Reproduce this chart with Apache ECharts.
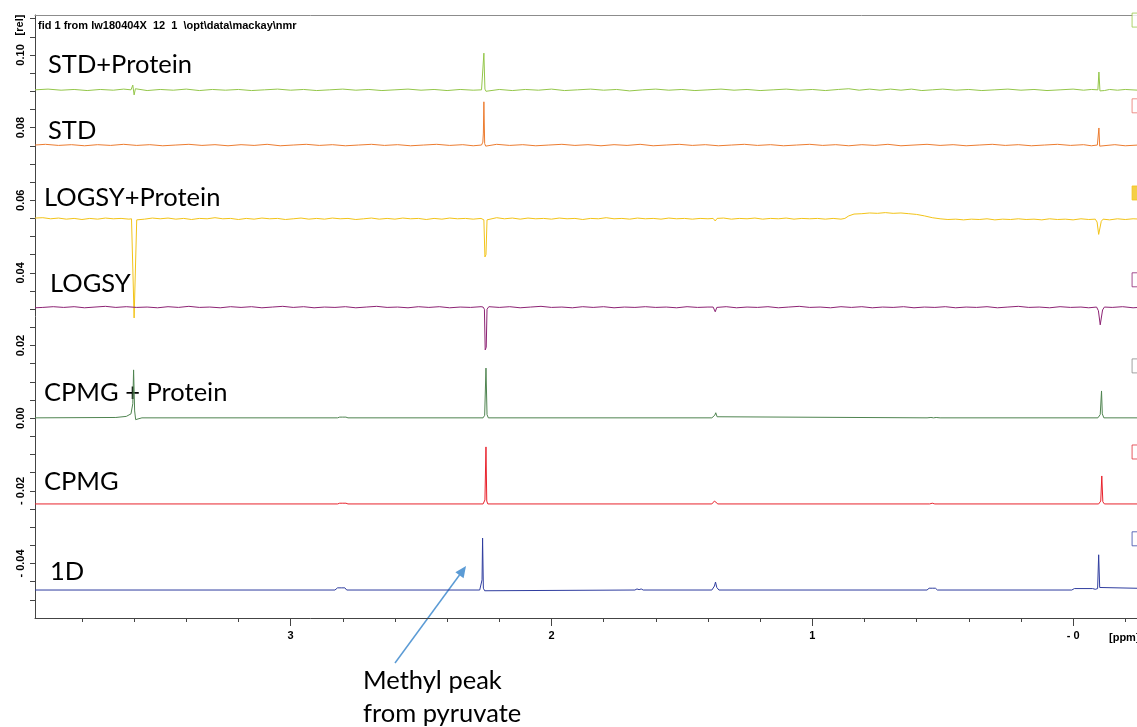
<!DOCTYPE html>
<html>
<head>
<meta charset="utf-8">
<title>NMR spectra</title>
<script src="https://cdn.jsdelivr.net/npm/echarts@6/dist/echarts.min.js"></script>
<style>
  html, body { margin: 0; padding: 0; background: #fff; }
  #main { width: 1137px; height: 727px; }
</style>
</head>
<body>
<div id="main"></div>
<script>
// spectra as [ppm, intensity]
const stdProtein = [
  [3.98,0.0904],[3.93,0.0906],[3.88,0.0903],[3.83,0.0905],[3.78,0.0902],[3.73,0.0905],[3.68,0.0903],[3.64,0.0906],
  [3.612,0.0904],[3.605,0.0917],[3.600,0.0890],[3.595,0.0907],[3.588,0.0904],[3.55,0.0902],[3.50,0.0905],[3.45,0.0903],
  [3.40,0.0906],[3.35,0.0902],[3.30,0.0905],[3.25,0.0903],[3.20,0.0905],[3.15,0.0902],[3.10,0.0904],[3.05,0.0906],
  [3.00,0.0903],[2.95,0.0905],[2.90,0.0902],[2.85,0.0904],[2.80,0.0906],[2.75,0.0903],[2.70,0.0905],[2.65,0.0902],
  [2.60,0.0904],[2.55,0.0906],[2.50,0.0903],[2.45,0.0905],[2.40,0.0902],[2.35,0.0905],[2.30,0.0903],
  [2.268,0.0904],[2.263,0.0909],[2.259,0.1005],[2.255,0.0906],[2.251,0.0900],[2.246,0.0904],
  [2.20,0.0905],[2.15,0.0902],[2.10,0.0905],[2.05,0.0903],[2.00,0.0906],[1.95,0.0902],[1.90,0.0904],[1.85,0.0906],
  [1.80,0.0903],[1.75,0.0905],[1.70,0.0901],[1.65,0.0904],[1.60,0.0906],[1.55,0.0903],[1.50,0.0905],[1.45,0.0902],
  [1.40,0.0904],[1.35,0.0906],[1.30,0.0903],[1.25,0.0905],[1.20,0.0902],[1.15,0.0904],[1.10,0.0906],[1.05,0.0903],
  [1.00,0.0905],[0.95,0.0902],[0.90,0.0905],[0.86,0.0907],[0.82,0.0903],[0.78,0.0906],[0.74,0.0903],[0.70,0.0906],
  [0.66,0.0903],[0.62,0.0906],[0.58,0.0902],[0.54,0.0904],[0.50,0.0906],[0.45,0.0903],[0.40,0.0905],[0.35,0.0902],
  [0.30,0.0904],[0.25,0.0906],[0.20,0.0903],[0.15,0.0905],[0.10,0.0902],[0.05,0.0904],[0.00,0.0906],[-0.04,0.0903],
  [-0.07,0.0905],[-0.095,0.0904],[-0.099,0.0953],[-0.103,0.0901],[-0.108,0.0905],[-0.12,0.0902],[-0.14,0.0905],
  [-0.17,0.0903],[-0.20,0.0905],[-0.25,0.0903],[-0.30,0.0904]
];

const std = [
  [3.98,0.0752],[3.94,0.0754],[3.89,0.0751],[3.84,0.0753],[3.79,0.0750],[3.74,0.0753],[3.69,0.0751],[3.64,0.0754],
  [3.59,0.0751],[3.54,0.0753],[3.49,0.0750],[3.44,0.0752],[3.39,0.0754],[3.34,0.0751],[3.29,0.0753],[3.24,0.0750],
  [3.19,0.0753],[3.14,0.0751],[3.09,0.0754],[3.04,0.0750],[2.99,0.0752],[2.94,0.0754],[2.89,0.0751],[2.84,0.0753],
  [2.79,0.0750],[2.74,0.0752],[2.69,0.0754],[2.64,0.0751],[2.59,0.0753],[2.54,0.0750],[2.49,0.0752],[2.44,0.0754],
  [2.39,0.0751],[2.34,0.0753],[2.30,0.0750],
  [2.268,0.0752],[2.263,0.0760],[2.261,0.0785],[2.259,0.0871],[2.256,0.0756],[2.252,0.0749],[2.246,0.0752],
  [2.21,0.0754],[2.16,0.0751],[2.11,0.0753],[2.06,0.0750],[2.01,0.0752],[1.96,0.0754],[1.91,0.0751],[1.86,0.0753],
  [1.81,0.0750],[1.76,0.0753],[1.71,0.0751],[1.66,0.0754],[1.61,0.0750],[1.56,0.0752],[1.51,0.0754],[1.46,0.0751],
  [1.41,0.0753],[1.36,0.0750],[1.31,0.0752],[1.26,0.0754],[1.21,0.0751],[1.16,0.0753],[1.11,0.0750],[1.06,0.0752],
  [1.01,0.0754],[0.96,0.0751],[0.91,0.0753],[0.86,0.0750],[0.81,0.0753],[0.76,0.0751],[0.71,0.0754],[0.66,0.0750],
  [0.61,0.0752],[0.56,0.0754],[0.51,0.0751],[0.46,0.0753],[0.41,0.0750],[0.36,0.0752],[0.31,0.0754],[0.26,0.0751],
  [0.21,0.0753],[0.16,0.0750],[0.11,0.0752],[0.06,0.0754],[0.01,0.0751],[-0.04,0.0753],[-0.07,0.0750],
  [-0.093,0.0752],[-0.097,0.0756],[-0.099,0.0799],[-0.102,0.0749],[-0.108,0.0753],[-0.13,0.0751],[-0.16,0.0753],
  [-0.20,0.0750],[-0.25,0.0752],[-0.30,0.0751]
];

const logsyProtein = [
  [3.98,0.0551],[3.95,0.0552],[3.92,0.0549],[3.89,0.0551],[3.86,0.0548],[3.83,0.0550],[3.80,0.0547],[3.77,0.0550],
  [3.74,0.0548],[3.71,0.0551],[3.68,0.0549],[3.65,0.0550],[3.62,0.0548],[3.61,0.0549],
  [3.604,0.0547],[3.600,0.0276],[3.594,0.0280],[3.590,0.0546],[3.585,0.0550],
  [3.56,0.0548],[3.53,0.0551],[3.50,0.0549],[3.47,0.0551],[3.44,0.0548],[3.41,0.0550],[3.38,0.0547],[3.35,0.0550],
  [3.32,0.0549],[3.29,0.0552],[3.26,0.0549],[3.23,0.0550],[3.20,0.0547],[3.17,0.0550],[3.14,0.0548],[3.11,0.0551],
  [3.08,0.0549],[3.05,0.0550],[3.02,0.0547],[2.99,0.0549],[2.96,0.0551],[2.93,0.0548],[2.90,0.0550],[2.87,0.0548],
  [2.84,0.0551],[2.81,0.0549],[2.78,0.0550],[2.75,0.0547],[2.72,0.0549],[2.69,0.0551],[2.66,0.0548],[2.63,0.0550],
  [2.60,0.0548],[2.57,0.0551],[2.54,0.0549],[2.51,0.0550],[2.48,0.0547],[2.45,0.0550],[2.42,0.0548],[2.39,0.0551],
  [2.36,0.0549],[2.33,0.0550],[2.30,0.0548],[2.27,0.0550],
  [2.259,0.0546],[2.255,0.0444],[2.251,0.0450],[2.247,0.0546],[2.24,0.0550],
  [2.21,0.0552],[2.18,0.0549],[2.15,0.0551],[2.12,0.0548],[2.09,0.0551],[2.06,0.0549],[2.03,0.0550],[2.00,0.0548],
  [1.97,0.0551],[1.94,0.0549],[1.91,0.0550],[1.88,0.0547],[1.85,0.0550],[1.82,0.0549],[1.79,0.0552],[1.76,0.0549],
  [1.73,0.0550],[1.70,0.0548],[1.67,0.0551],[1.64,0.0549],[1.61,0.0550],[1.58,0.0548],[1.55,0.0551],[1.52,0.0549],
  [1.49,0.0550],[1.46,0.0548],[1.43,0.0550],[1.40,0.0549],[1.38,0.0550],[1.372,0.0543],[1.365,0.0550],
  [1.34,0.0551],[1.31,0.0548],[1.28,0.0550],[1.25,0.0549],[1.22,0.0551],[1.19,0.0548],[1.16,0.0550],[1.13,0.0549],
  [1.10,0.0551],[1.07,0.0548],[1.04,0.0550],[1.01,0.0549],[0.98,0.0550],[0.95,0.0548],[0.92,0.0550],[0.89,0.0548],
  [0.875,0.0550],[0.86,0.0557],[0.84,0.0562],[0.81,0.0563],[0.78,0.0565],[0.75,0.0564],[0.72,0.0566],[0.69,0.0564],
  [0.66,0.0565],[0.63,0.0563],[0.60,0.0561],[0.57,0.0557],[0.54,0.0552],[0.51,0.0549],[0.48,0.0547],[0.45,0.0548],
  [0.42,0.0546],[0.39,0.0548],[0.36,0.0547],[0.33,0.0549],[0.30,0.0546],[0.27,0.0548],[0.24,0.0547],[0.21,0.0549],
  [0.18,0.0547],[0.15,0.0548],[0.12,0.0546],[0.09,0.0549],[0.06,0.0547],[0.03,0.0548],[0.00,0.0546],[-0.03,0.0549],
  [-0.06,0.0547],[-0.085,0.0548],
  [-0.092,0.0540],[-0.098,0.0506],[-0.103,0.0510],[-0.108,0.0542],[-0.115,0.0548],
  [-0.14,0.0546],[-0.17,0.0549],[-0.20,0.0547],[-0.23,0.0549],[-0.26,0.0548],[-0.30,0.0548]
];

const logsy = [
  [3.98,0.0304],[3.95,0.0305],[3.91,0.0307],[3.87,0.0305],[3.83,0.0307],[3.79,0.0304],[3.75,0.0306],[3.71,0.0308],
  [3.67,0.0305],[3.63,0.0307],[3.59,0.0305],[3.55,0.0306],[3.51,0.0304],[3.47,0.0307],[3.43,0.0305],[3.39,0.0308],
  [3.35,0.0305],[3.31,0.0306],[3.27,0.0304],[3.23,0.0307],[3.19,0.0305],[3.15,0.0307],[3.11,0.0304],[3.07,0.0306],
  [3.03,0.0308],[2.99,0.0305],[2.95,0.0307],[2.91,0.0304],[2.87,0.0306],[2.83,0.0305],[2.79,0.0307],[2.75,0.0304],
  [2.71,0.0306],[2.67,0.0308],[2.63,0.0305],[2.59,0.0306],[2.55,0.0304],[2.51,0.0307],[2.47,0.0305],[2.43,0.0307],
  [2.39,0.0304],[2.35,0.0306],[2.31,0.0305],[2.27,0.0307],
  [2.262,0.0306],[2.257,0.0300],[2.254,0.0188],[2.250,0.0195],[2.247,0.0300],[2.240,0.0307],
  [2.20,0.0305],[2.16,0.0307],[2.12,0.0304],[2.08,0.0306],[2.04,0.0308],[2.00,0.0305],[1.96,0.0306],[1.92,0.0304],
  [1.88,0.0307],[1.84,0.0305],[1.80,0.0307],[1.76,0.0304],[1.72,0.0306],[1.68,0.0305],[1.64,0.0307],[1.60,0.0305],
  [1.56,0.0306],[1.52,0.0304],[1.48,0.0307],[1.44,0.0305],[1.40,0.0306],
  [1.38,0.0306],[1.372,0.0293],[1.366,0.0305],
  [1.33,0.0307],[1.29,0.0304],[1.25,0.0306],[1.21,0.0305],[1.17,0.0307],[1.13,0.0304],[1.09,0.0306],[1.05,0.0308],
  [1.01,0.0305],[0.97,0.0306],[0.93,0.0304],[0.89,0.0307],[0.85,0.0305],[0.81,0.0307],[0.77,0.0304],[0.73,0.0306],
  [0.69,0.0305],[0.65,0.0307],[0.61,0.0304],[0.57,0.0306],[0.53,0.0305],[0.49,0.0307],[0.45,0.0304],[0.41,0.0306],
  [0.37,0.0305],[0.33,0.0307],[0.29,0.0304],[0.25,0.0306],[0.21,0.0308],[0.17,0.0305],[0.13,0.0306],[0.09,0.0304],
  [0.05,0.0307],[0.01,0.0305],[-0.03,0.0306],[-0.06,0.0304],[-0.09,0.0306],
  [-0.097,0.0296],[-0.104,0.0257],[-0.108,0.0262],[-0.113,0.0298],[-0.12,0.0306],
  [-0.15,0.0305],[-0.19,0.0307],[-0.23,0.0304],[-0.27,0.0306],[-0.30,0.0305]
];

const cpmgProtein = [
  [3.98,0.0001],[3.67,0.0002],[3.63,0.0005],[3.612,0.0012],[3.605,0.0040],[3.602,0.0133],[3.598,0.0020],
  [3.594,-0.0004],[3.585,-0.0002],[3.57,0.0001],
  [2.82,0.0001],[2.812,0.0003],[2.806,0.0001],[2.800,0.0003],[2.794,0.0001],[2.788,0.0003],[2.78,0.0001],
  [2.262,0.0001],[2.256,0.0008],[2.251,0.0138],[2.247,0.0010],[2.242,0.0001],
  [1.385,0.0001],[1.374,0.0008],[1.370,0.0015],[1.365,0.0004],[1.358,0.0001],
  [0.56,0.0001],[0.545,0.0002],[0.535,0.0001],[0.525,0.0002],[0.51,0.0001],
  [-0.095,0.0001],[-0.104,0.0010],[-0.109,0.0075],[-0.112,0.0012],[-0.118,0.0001],[-0.30,0.0001]
];

const cpmg = [
  [3.98,-0.0236],[2.82,-0.0236],[2.812,-0.0234],[2.806,-0.0236],[2.800,-0.0234],[2.794,-0.0236],[2.788,-0.0234],
  [2.78,-0.0236],
  [2.262,-0.0236],[2.255,-0.0225],[2.251,-0.0079],[2.248,-0.0228],[2.244,-0.0236],
  [1.385,-0.0236],[1.375,-0.0228],[1.370,-0.0225],[1.362,-0.0236],
  [0.55,-0.0236],[0.54,-0.0234],[0.53,-0.0236],
  [-0.098,-0.0236],[-0.106,-0.0228],[-0.110,-0.0159],[-0.114,-0.0230],[-0.12,-0.0236],[-0.30,-0.0236]
];

const oneD = [
  [3.98,-0.0473],[2.83,-0.0473],[2.82,-0.0467],[2.813,-0.0472],[2.806,-0.0467],[2.799,-0.0472],[2.792,-0.0467],
  [2.785,-0.0473],
  [2.275,-0.0473],[2.268,-0.0470],[2.266,-0.0445],[2.264,-0.0330],[2.261,-0.0468],[2.256,-0.0475],[2.25,-0.0473],
  [1.68,-0.0473],[1.672,-0.0470],[1.664,-0.0472],[1.656,-0.0470],[1.648,-0.0473],
  [1.385,-0.0473],[1.375,-0.0462],[1.371,-0.0451],[1.366,-0.0466],[1.358,-0.0473],
  [0.56,-0.0473],[0.552,-0.0468],[0.546,-0.0472],[0.540,-0.0468],[0.534,-0.0472],[0.528,-0.0468],[0.52,-0.0473],
  [0.005,-0.0473],[-0.005,-0.0469],[-0.075,-0.0469],[-0.085,-0.0471],[-0.094,-0.0469],
  [-0.098,-0.0376],[-0.102,-0.0466],[-0.108,-0.0469],[-0.30,-0.0469]
];

const traceNames = ['STD+Protein', 'STD', 'LOGSY+Protein', 'LOGSY', 'CPMG + Protein', 'CPMG', '1D'];
const traces = [stdProtein, std, logsyProtein, logsy, cpmgProtein, cpmg, oneD];
const traceColors = ['#94c64a', '#ec7c30', '#f2c318', '#8c2273', '#4f8450', '#e8222c', '#2f3d9f'];
// little scale boxes at the right edge, one per trace
const boxColors = ['#9bc84a', '#e8756c', '#f2c318', '#8c2273', '#8a8a8a', '#e0303a', '#3a48a8'];
const boxLevels = [0.1096, 0.0860, 0.0620, 0.0381, 0.0144, -0.0093, -0.0332];
const boxPpm = -0.253;

// axis ticks and labels
const xLabelValues = [0, 1, 2, 3];
const xMinorTicks = [-0.2, 0, 0.2, 0.4, 0.6, 0.8, 1, 1.2, 1.4, 1.6, 1.8, 2, 2.2, 2.4, 2.6, 2.8, 3, 3.2, 3.4, 3.6, 3.8];
const yLabelValues = [-0.04, -0.02, 0, 0.02, 0.04, 0.06, 0.08, 0.10];
const yTickValues = [-0.05, -0.045, -0.04, -0.035, -0.03, -0.025, -0.02, -0.015, -0.01, -0.005, 0,
  0.005, 0.01, 0.015, 0.02, 0.025, 0.03, 0.035, 0.04, 0.045, 0.05, 0.055, 0.06, 0.065, 0.07, 0.075,
  0.08, 0.085, 0.09, 0.095, 0.10, 0.105, 0.11];

const labelFont = 'Liberation Sans';
const axisGray = '#444';
const bigFont = '25.5px Lato';

var myChart = echarts.init(document.querySelector('#main'));

const series = traces.map((d, i) => ({
  name: traceNames[i],
  type: 'line',
  data: d,
  showSymbol: false,
  symbol: 'none',
  lineStyle: { color: traceColors[i], width: 1 },
  itemStyle: { color: traceColors[i] },
  animation: false,
  silent: true
}));

series.push({
  type: 'scatter',
  symbol: 'rect',
  symbolSize: 14,
  clip: false,
  animation: false,
  silent: true,
  data: boxLevels.map((v, i) => ({
    value: [boxPpm, v],
    itemStyle: {
      color: i === 2 ? boxColors[i] : '#fff',
      borderColor: boxColors[i],
      borderWidth: 1
    }
  }))
});

// text labels on the left of each trace
const labelSpots = [[48, 65], [48, 131], [44, 198], [50, 284], [44, 393], [44, 482], [50, 572]];
const graphics = traceNames.map((t, i) => ({
  type: 'text',
  x: labelSpots[i][0],
  y: labelSpots[i][1],
  style: { text: t, font: bigFont, fill: '#000', align: 'left', verticalAlign: 'middle' }
}));

graphics.push(
  {
    type: 'text', x: 38, y: 26,
    style: { text: 'fid 1 from lw180404X  12  1  \\opt\\data\\mackay\\nmr', font: 'bold 11px ' + labelFont, fill: '#000', align: 'left', verticalAlign: 'middle' }
  },
  {
    type: 'text', x: 20, y: 25, rotation: Math.PI / 2,
    style: { text: '[rel]', font: 'bold 11px ' + labelFont, fill: '#000', align: 'center', verticalAlign: 'middle' }
  },
  {
    type: 'text', x: 1109, y: 638,
    style: { text: '[ppm]', font: 'bold 11px ' + labelFont, fill: '#000', align: 'left', verticalAlign: 'middle' }
  },
  {
    type: 'line',
    shape: { x1: 395, y1: 663, x2: 459.5, y2: 575 },
    style: { stroke: '#5b9bd5', lineWidth: 1.5 }
  },
  {
    type: 'polygon',
    shape: { points: [[466, 566], [463.6, 578.2], [455.4, 572.2]] },
    style: { fill: '#5b9bd5' }
  },
  {
    type: 'text', x: 363, y: 681,
    style: { text: 'Methyl peak', font: bigFont, fill: '#000', align: 'left', verticalAlign: 'middle' }
  },
  {
    type: 'text', x: 363, y: 714,
    style: { text: 'from pyruvate', font: bigFont, fill: '#000', align: 'left', verticalAlign: 'middle' }
  }
);

var option = {
  backgroundColor: '#fff',
  animation: false,
  grid: { left: 35, right: 0, top: 15, bottom: 109 },
  xAxis: [
    {
      type: 'value', min: -0.245, max: 3.98, inverse: true, position: 'bottom',
      axisLine: { show: true, onZero: false, lineStyle: { color: axisGray, width: 1 } },
      axisTick: { show: true, length: 4, customValues: xMinorTicks, lineStyle: { color: axisGray } },
      axisLabel: {
        customValues: xLabelValues, margin: 12,
        fontFamily: labelFont, fontWeight: 'bold', fontSize: 11, color: '#000',
        formatter: v => (v === 0 ? '- 0' : String(v))
      },
      splitLine: { show: false }
    },
    {
      type: 'value', min: -0.245, max: 3.98, inverse: true, position: 'bottom',
      axisLine: { show: false, onZero: false },
      axisTick: { show: true, length: 8, customValues: xLabelValues, lineStyle: { color: axisGray } },
      axisLabel: { show: false },
      splitLine: { show: false }
    },
    {
      // frame line along the top
      type: 'value', min: -0.245, max: 3.98, inverse: true, position: 'top',
      axisLine: { show: true, onZero: false, lineStyle: { color: '#8c8c8c', width: 1 } },
      axisTick: { show: false },
      axisLabel: { show: false },
      splitLine: { show: false }
    }
  ],
  yAxis: {
    type: 'value', min: -0.055, max: 0.111, position: 'left',
    axisLine: { show: true, onZero: false, lineStyle: { color: axisGray, width: 1 } },
    axisTick: { show: true, length: 5, customValues: yTickValues, lineStyle: { color: axisGray } },
    axisLabel: {
      customValues: yLabelValues, rotate: 90, margin: 9,
      fontFamily: labelFont, fontWeight: 'bold', fontSize: 11, color: '#000',
      formatter: v => (v < 0 ? '- ' + Math.abs(v).toFixed(2) : v.toFixed(2))
    },
    splitLine: { show: false }
  },
  series: series,
  graphic: graphics
};

myChart.setOption(option);
</script>
</body>
</html>
